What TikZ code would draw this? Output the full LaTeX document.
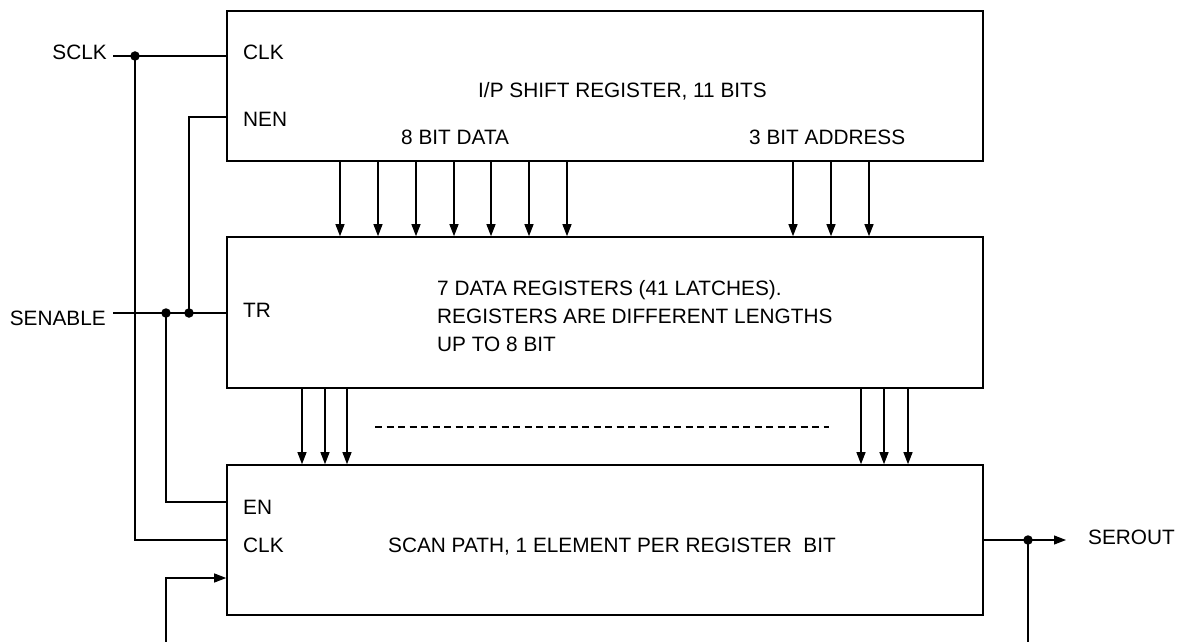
\documentclass[tikz,border=0pt]{standalone}
\usepackage{fontspec}
\setmainfont{Liberation Sans}
\usetikzlibrary{arrows.meta}
\begin{document}
\begin{tikzpicture}[x=1pt,y=-1pt,
  box/.style={draw, line width=1.6pt, inner sep=0pt},
  wire/.style={line width=1.1pt},
  arr/.style={line width=1.1pt, -{Triangle[length=12pt,width=9pt]}},
  lbl/.style={anchor=base west, inner sep=0pt, font=\fontsize{20.8}{28}\selectfont},
  lblr/.style={anchor=base east, inner sep=0pt, font=\fontsize{20.8}{28}\selectfont},
  dot/.style={circle, fill, inner sep=0pt, minimum size=9.5pt}]
\useasboundingbox (0,0) rectangle (1187,642);
% boxes
\node[box, minimum width=756pt, minimum height=150pt] (b1) at (605,86) {};
\node[box, minimum width=756pt, minimum height=151pt] (b2) at (605,312.5) {};
\node[box, minimum width=756pt, minimum height=150pt] (b3) at (605,540) {};
% labels
\node[lblr] (tsclk) at (107,60) {SCLK};
\node[lblr] (tsen) at (106,325) {SENABLE};
\node[lbl] (tclk1) at (243,60) {CLK};
\node[lbl] (tnen) at (243,126) {NEN};
\node[lbl] (tip) at (478,98) {I/P SHIFT REGISTER, 11 BITS};
\node[lbl] (tdata) at (401,144) {8 BIT DATA};
\node[lbl] (taddr) at (749,144) {3 BIT ADDRESS};
\node[lbl] (ttr) at (243,317) {TR};
\node[lbl] (t21) at (437,295) {7 DATA REGISTERS (41 LATCHES).};
\node[lbl] (t22) at (437,323) {REGISTERS ARE DIFFERENT LENGTHS};
\node[lbl] (t23) at (437,351) {UP TO 8 BIT};
\node[lbl] (ten) at (243,514) {EN};
\node[lbl] (tclk3) at (243,552) {CLK};
\node[lbl] (tscan) at (388,552) {SCAN PATH, 1 ELEMENT PER REGISTER\ \ BIT};
\node[lbl] (tser) at (1088,544) {SEROUT};
% coordinates
\coordinate (sclk) at (113,56);
\coordinate (sen) at (113,313);
\coordinate (yen) at (0,502);
\coordinate (yclk) at (0,540);
\coordinate (yin) at (0,578);
\coordinate (ynen) at (0,117);
\coordinate (inb) at (166,642);
\coordinate (outb) at (1028,642);
\coordinate (serend) at (1066,540);
\node[dot] (d1) at (135,56) {};
\node[dot] (d2) at (166,313) {};
\node[dot] (d3) at (189,313) {};
\node[dot] (d4) at (1028,540) {};
% wires
\draw[wire] (sclk) -- (b1.west |- sclk);
\draw[wire] (d1.center) |- (b3.west |- yclk);
\draw[wire] (sen) -- (b2.west |- sen);
\draw[wire] (b1.west |- ynen) -| (d3.center);
\draw[wire] (d2.center) |- (b3.west |- yen);
\draw[arr] (inb) |- (b3.west |- yin);
\draw[arr] (b3.east |- yclk) -- (serend);
\draw[wire] (d4.center) -- (outb);
% bus arrows
\foreach \x in {340,378,416,454,491,529,567,793,831,869}
  \draw[arr] (b1.south -| \x,0) -- (b2.north -| \x,0);
\foreach \x in {302,325,347,861,884,908}
  \draw[arr] (b2.south -| \x,0) -- (b3.north -| \x,0);
% dashed continuation
\coordinate (da) at (375,427);
\coordinate (db) at (829,427);
\draw[wire, dash pattern=on 7pt off 4.5pt] (da) -- (db);
\end{tikzpicture}
\end{document}
